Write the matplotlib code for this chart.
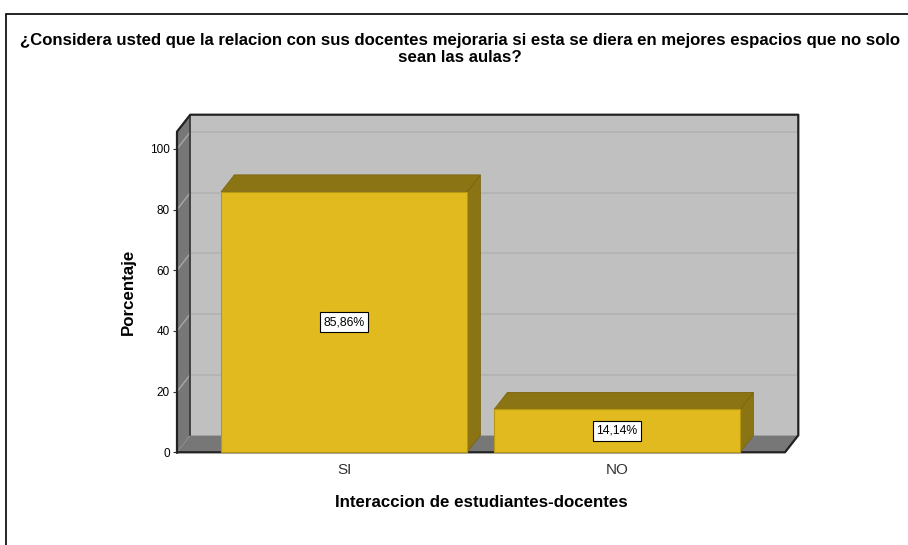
import numpy as np
import matplotlib
matplotlib.use("Agg")
import matplotlib.pyplot as plt
from matplotlib.patches import Polygon, Rectangle

plt.rcParams['font.family'] = ['Liberation Sans', 'DejaVu Sans']

categories = ["SI", "NO"]
values = [85.86, 14.14]
labels = ["85,86%", "14,14%"]
yticks = [0, 20, 40, 60, 80, 100]

title = ("¿Considera usted que la relacion con sus docentes mejoraria si esta se diera en mejores espacios que no solo\n"
         "sean las aulas?")
xlabel = "Interaccion de estudiantes-docentes"
ylabel = "Porcentaje"

# 3d look
XMIN, XMAX = -0.612, 1.615
YMAX = 105.7
DX, DY = 0.0487, 5.6
BAR_W = 0.901

FRONT = "#e0ba1e"
DARK = "#8b7414"
WALL = "#c0c0c0"
SIDE = "#777777"

fig = plt.figure(figsize=(9.08, 5.45), dpi=100)
ax = fig.add_axes([177 / 908, 1 - 452.3 / 545, (785 - 177) / 908, (452.3 - 131.7) / 545])
ax.set_xlim(XMIN, XMAX)
ax.set_ylim(0, YMAX)

# outer frame
fig.patches.append(Rectangle((6 / 908, -0.1), 1.2, 1 - 14 / 545 + 0.1, transform=fig.transFigure,
                             fill=False, edgecolor="black", linewidth=1.2))

# back wall, floor, side wall
ax.add_patch(Polygon([(XMIN + DX, DY), (XMAX + DX, DY), (XMAX + DX, YMAX + DY), (XMIN + DX, YMAX + DY)],
                     facecolor=WALL, edgecolor="none", clip_on=False, zorder=1))
ax.add_patch(Polygon([(XMIN, 0), (XMAX, 0), (XMAX + DX, DY), (XMIN + DX, DY)],
                     facecolor=SIDE, edgecolor="none", clip_on=False, zorder=1))
ax.add_patch(Polygon([(XMIN, 0), (XMIN + DX, DY), (XMIN + DX, YMAX + DY), (XMIN, YMAX)],
                     facecolor=SIDE, edgecolor="none", clip_on=False, zorder=1))

for y in yticks[1:]:
    ax.plot([XMIN + DX, XMAX + DX], [y + DY, y + DY], color="#b2b2b2", lw=1.2, clip_on=False, zorder=2)
    ax.plot([XMIN, XMIN + DX], [y, y + DY], color="#a8a8a8", lw=1.0, clip_on=False, zorder=2)

ax.plot([XMIN + DX, XMIN + DX], [DY, YMAX + DY], color="#333333", lw=1.2, clip_on=False, zorder=2)
ax.plot([XMIN, XMIN, XMIN + DX, XMAX + DX, XMAX + DX, XMAX, XMIN],
        [0, YMAX, YMAX + DY, YMAX + DY, DY, 0, 0], color="#222222", lw=1.6, clip_on=False, zorder=3)

# bars
for i, (v, lab) in enumerate(zip(values, labels)):
    x0, x1 = i - BAR_W / 2, i + BAR_W / 2
    ax.add_patch(Polygon([(x1, 0), (x1 + DX, DY), (x1 + DX, v + DY), (x1, v)],
                         facecolor=DARK, edgecolor="#7a6610", lw=0.6, clip_on=False, zorder=4))
    ax.add_patch(Polygon([(x0, v), (x1, v), (x1 + DX, v + DY), (x0 + DX, v + DY)],
                         facecolor=DARK, edgecolor="#7a6610", lw=0.6, clip_on=False, zorder=4))
    ax.add_patch(Rectangle((x0, 0), BAR_W, v, facecolor=FRONT, edgecolor="#b89810",
                           lw=0.8, clip_on=False, zorder=5))
    ax.text(i, v / 2, lab, ha="center", va="center", fontsize=8.8, zorder=6,
            bbox=dict(boxstyle="square,pad=0.3", facecolor="white", edgecolor="black", lw=0.8))

for s in ax.spines.values():
    s.set_visible(False)
ax.set_yticks(yticks)
ax.tick_params(axis="y", length=3, labelsize=8.5, pad=2, color="#333333")
ax.set_xticks(range(len(categories)))
ax.set_xticklabels(categories, fontsize=11, color="#333333")
ax.tick_params(axis="x", length=0, pad=8)
ax.set_facecolor("none")

ax.set_xlabel(xlabel, fontsize=12.2, fontweight="bold", labelpad=13)
ax.set_ylabel(ylabel, fontsize=12.2, fontweight="bold", labelpad=10)

fig.text(460 / 908, 1 - 49 / 545, title, ha="center", va="center", fontsize=12.1,
         fontweight="bold", linespacing=1.15)

fig.savefig("out.png", dpi=100)
